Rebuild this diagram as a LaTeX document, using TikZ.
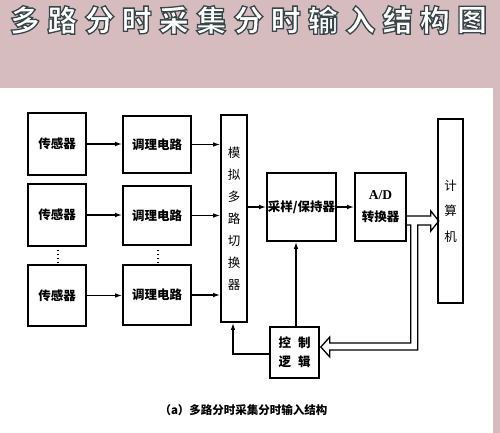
\documentclass[tikz,border=0pt]{standalone}
\usepackage{fontspec}
\setmainfont{Liberation Serif}
\newfontfamily\cjk{Noto Sans CJK SC}
\usetikzlibrary{arrows.meta,calc}
\definecolor{pinkbg}{RGB}{214,187,191}
\tikzset{
  blk/.style={draw=black, line width=1.6pt, fill=white, inner sep=0pt, align=center,
    font=\cjk\bfseries\fontsize{12.5}{22}\selectfont},
  thintext/.style={font=\cjk\fontsize{12.5}{22}\selectfont},
  arr/.style={line width=1.3pt, -{Latex[length=7pt,width=4.5pt]}},
  bus/.style={line width=1.3pt, line join=miter},
  titlech/.style={font=\cjk\bfseries\fontsize{30}{30}\selectfont, inner sep=0pt, text=white},
  dotline/.style={line width=2pt, dash pattern=on 1.6pt off 2.4pt}
}
\newcommand\outlinetext[1]{\special{pdf:literal direct 0.216 0.275 0.282 RG 1.3 w 2 Tr}#1\special{pdf:literal direct 0 Tr}}
\begin{document}
\begin{tikzpicture}[x=1pt,y=-1pt]
\useasboundingbox (0,0) rectangle (500,433);
\fill[pinkbg] (0,0) rectangle (500,433);
\fill[white] (0,88) rectangle (493,433);

% title
\foreach \c [count=\i] in {多,路,分,时,采,集,分,时,输,入,结,构,图}{
  \pgfmathsetmacro{\tx}{25+37.25*(\i-1)}
  \node[titlech] (t\i) at (\tx,20) {\outlinetext{\c}};
}

% sensors
\node[blk, minimum width=58pt, minimum height=62pt] (s1) at (57,144) {传感器};
\node[blk, minimum width=58pt, minimum height=62pt] (s2) at (57,215) {传感器};
\node[blk, minimum width=58pt, minimum height=61pt] (s3) at (57,295.5) {传感器};
% conditioning
\node[blk, minimum width=68pt, minimum height=57pt] (c1) at (157,144.5) {调理电路};
\node[blk, minimum width=68pt, minimum height=59pt] (c2) at (157,215.5) {调理电路};
\node[blk, minimum width=68pt, minimum height=60pt] (c3) at (157,295) {调理电路};
% mux
\node[blk, thintext, minimum width=26pt, minimum height=207pt] (mux) at (234,218.5) {模\\拟\\多\\路\\切\\换\\器};
% sample/hold
\node[blk, minimum width=69pt, minimum height=68pt] (sh) at (301.5,207) {采样/保持器};
% A/D
\node[blk, minimum width=51pt, minimum height=68pt] (ad) at (380.5,207) {{\fontsize{13.5}{22}\selectfont\rmfamily\bfseries A/D}\\转换器};
% computer
\node[blk, minimum width=25pt, minimum height=184pt, font=\cjk\fontsize{12.5}{25.5}\selectfont] (pc) at (450.5,211) {计\\算\\机};
% control logic
\node[blk, minimum width=49pt, minimum height=51pt, font=\cjk\bfseries\fontsize{12.5}{19}\selectfont] (ctl) at (294.5,352.5) {控\hspace{7pt}制\\逻\hspace{7pt}辑};

% dots
\draw[dotline] ($(s2.south)+(1,3)$) -- ($(s3.north)+(1,-2)$);
\draw[dotline] ($(c2.south)+(1,4)$) -- ($(c3.north)+(1,-2)$);

% arrows rows
\foreach \r in {1,2,3}{
  \draw[arr] (s\r.east) -- (s\r.east -| c\r.west);
  \draw[arr] (c\r.east) -- (c\r.east -| mux.west);
}
\draw[arr] (sh.west -| mux.east) -- (sh.west);
\draw[arr] (sh.east) -- (ad.west);
\draw[arr] ($(ctl.north)+(1.5,0)$) -- ($(ctl.north |- sh.south)+(1.5,0)$);
\draw[arr] ($(ctl.west)+(0,1.5)$) -| ($(mux.south)+(-1,0)$);

% hollow bus arrows
\draw[bus] ($(ad.east)+(0,9)$) -- ++(24,0) -- ++(0,-5) -- ++(8,10) -- ++(-8,10)
  -- ++(0,-6) -- ++(-13,0) -- ++(0,125) -- ++(-88,0) -- ++(0,7) -- ++(-9,-10)
  -- ++(9,-10) -- ++(0,6) -- ++(81,0) -- ++(0,-118) -- ++(-4,0);

% caption
\node[font=\cjk\bfseries\fontsize{11.5}{12}\selectfont, inner sep=0pt] (cap) at (243.5,410) {（a）多路分时采集分时输入结构};
\end{tikzpicture}
\end{document}
